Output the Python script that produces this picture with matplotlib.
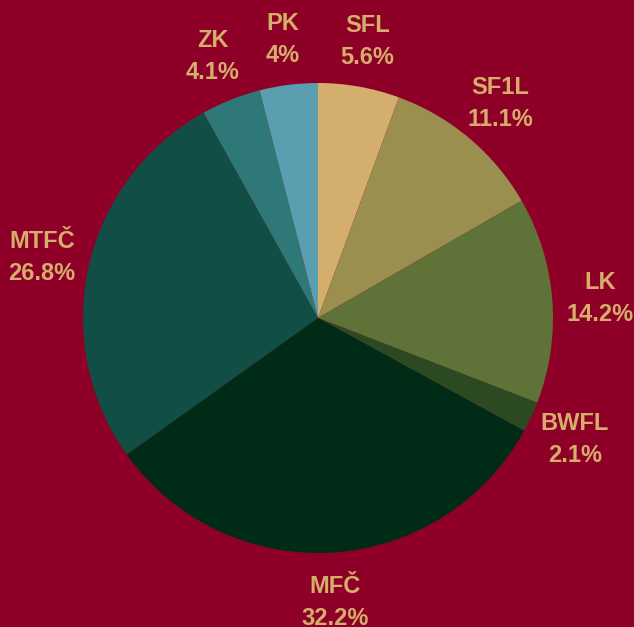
import matplotlib
matplotlib.use("Agg")
import matplotlib.pyplot as plt
import numpy as np

labels = ["SFL", "SF1L", "LK", "BWFL", "MFČ", "MTFČ", "ZK", "PK"]
values = [5.6, 11.1, 14.2, 2.1, 32.2, 26.8, 4.1, 4.0]
pct_labels = ["5.6%", "11.1%", "14.2%", "2.1%", "32.2%", "26.8%", "4.1%", "4%"]
colors = ["#D4AE6C", "#9A8F4F", "#5F7238", "#2C4A22", "#002C17", "#114E45", "#2E7877", "#5A9FAF"]
bg = "#8E0028"
text_color = "#D6AE6C"

W, H = 634, 627
fig = plt.figure(figsize=(W / 100, H / 100), dpi=100, facecolor=bg)
ax = fig.add_axes([0, 0, 1, 1])
ax.set_facecolor(bg)

R = 235.0
cx, cy = 318.0, 318.0

wedges, _ = ax.pie(values, colors=colors, startangle=90, counterclock=False,
                   radius=1.0, center=(0, 0), wedgeprops=dict(linewidth=0),
                   frame=True)
ax.axis("off")
ax.set_xlim(-cx / R, (W - cx) / R)
ax.set_ylim(-(H - cy) / R, cy / R)
ax.set_aspect("auto")

total = sum(values)
cum = 0.0
for lab, v, p in zip(labels, values, pct_labels):
    mid = (cum + v / 2) / total
    cum += v
    ang = np.deg2rad(90 - 360 * mid)
    r = 1.205
    x, y = r * np.cos(ang), r * np.sin(ang) - 2.0 / R
    ax.text(x, y, f"{lab}\n{p}", ha="center", va="center", color=text_color,
            fontsize=17, fontweight="bold", family="Liberation Sans",
            linespacing=1.5)

fig.savefig("out.png", dpi=100, facecolor=bg)
